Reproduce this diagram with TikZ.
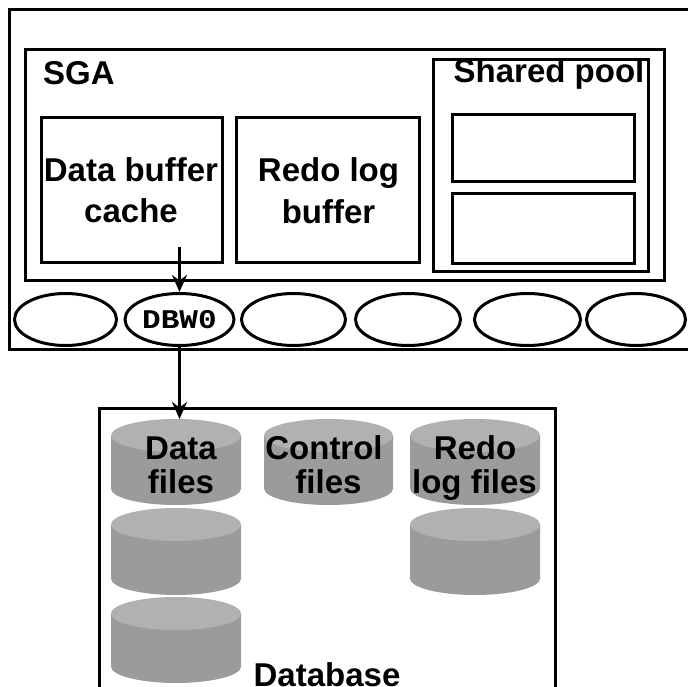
\documentclass[tikz,border=0pt]{standalone}
\usepackage{fontspec}
\setmainfont{Liberation Sans}
\newfontfamily\monof{Liberation Mono}
\usetikzlibrary{shapes.geometric,arrows.meta}
\definecolor{cylbody}{RGB}{155,155,155}
\definecolor{cyltop}{RGB}{177,177,177}
\tikzset{
  box/.style={draw, line width=3pt, rectangle, inner sep=0pt},
  proc/.style={draw, line width=3pt, ellipse, inner sep=0pt, minimum height=52pt},
  lbl/.style={font=\fontsize{33}{40}\selectfont\bfseries, inner sep=0pt, anchor=base},
  flow/.style={line width=3pt, -{Stealth[length=17pt,width=15pt]}},
}
\newcommand\cylshape[4]{%
  \pgfmathsetmacro\cylcx{(#1+#2)/2}%
  \pgfmathsetmacro\cylrx{(#2-#1)/2}%
  \fill[cylbody] (#1,#3+16.5) -- (#1,#4-16.5) arc[start angle=180,end angle=0,x radius=\cylrx,y radius=16.5] -- (#2,#3+16.5) -- cycle;
  \fill[cyltop] (\cylcx,#3+16.5) ellipse[x radius=\cylrx, y radius=16.5];
}
\begin{document}
\begin{tikzpicture}[x=1pt,y=-1pt]
\useasboundingbox (0,0) rectangle (688,687);
% instance box
\node[box, minimum width=690.5pt, minimum height=340pt] (inst) at (354.75,179.5) {};
\node[box, minimum width=639.5pt, minimum height=231pt] (sga) at (344.75,165) {};
\node[box, minimum width=181pt, minimum height=145pt] (dbc) at (132,190) {};
\node[box, minimum width=182.5pt, minimum height=145pt] (rlb) at (327.75,190) {};
\node[box, minimum width=215.5pt, minimum height=211.5pt] (sp) at (540.75,165.75) {};
\node[box, minimum width=182.2pt, minimum height=66.7pt] (sp1) at (543.4,148.35) {};
\node[box, minimum width=182.2pt, minimum height=69.3pt] (sp2) at (543.4,228.65) {};
% texts in SGA
\node[lbl, anchor=base west] (tsga) at (43,85) {SGA};
\node[lbl] (tdb1) at (131,182) {Data buffer};
\node[lbl] (tdb2) at (131,222.5) {cache};
\node[lbl] (tr1) at (328.5,182) {Redo log};
\node[lbl] (tr2) at (328.5,223) {buffer};
\node[lbl] (tsp) at (549,83) {Shared pool};
% background processes
\node[proc, minimum width=102pt] (e1) at (65.5,319.5) {};
\node[proc, minimum width=109pt] (e2) at (179.5,319.5) {\monof\bfseries\fontsize{27}{27}\selectfont\scalebox{1.15}[1]{DBW0}};
\node[proc, minimum width=104pt] (e3) at (293.5,319.5) {};
\node[proc, minimum width=105pt] (e4) at (408,319.5) {};
\node[proc, minimum width=106pt] (e5) at (527.5,319.5) {};
\node[proc, minimum width=99pt] (e6) at (636,319.5) {};
% database
\node[box, minimum width=456pt, minimum height=311.5pt] (db) at (327,564.25) {};
\cylshape{111}{241}{419}{505}
\cylshape{111}{241}{508}{595}
\cylshape{111}{241}{597}{683}
\cylshape{264}{393}{419}{505}
\cylshape{410}{540}{419}{505}
\cylshape{410}{540}{508}{595}
\node[lbl] (tdf1) at (181,459) {Data};
\node[lbl] (tdf2) at (181,493) {files};
\node[lbl] (tcf1) at (324,459) {Control};
\node[lbl] (tcf2) at (328.5,493) {files};
\node[lbl] (trf1) at (475,459) {Redo};
\node[lbl] (trf2) at (474.5,493) {log files};
\node[lbl] (tdbase) at (327,686) {Database};
% arrows
\coordinate (a1) at (179.5,247);
\coordinate (df) at (179.5,419);
\draw[flow] (a1) -- (e2.north);
\draw[flow] (e2.south) -- (df);
\end{tikzpicture}
\end{document}
